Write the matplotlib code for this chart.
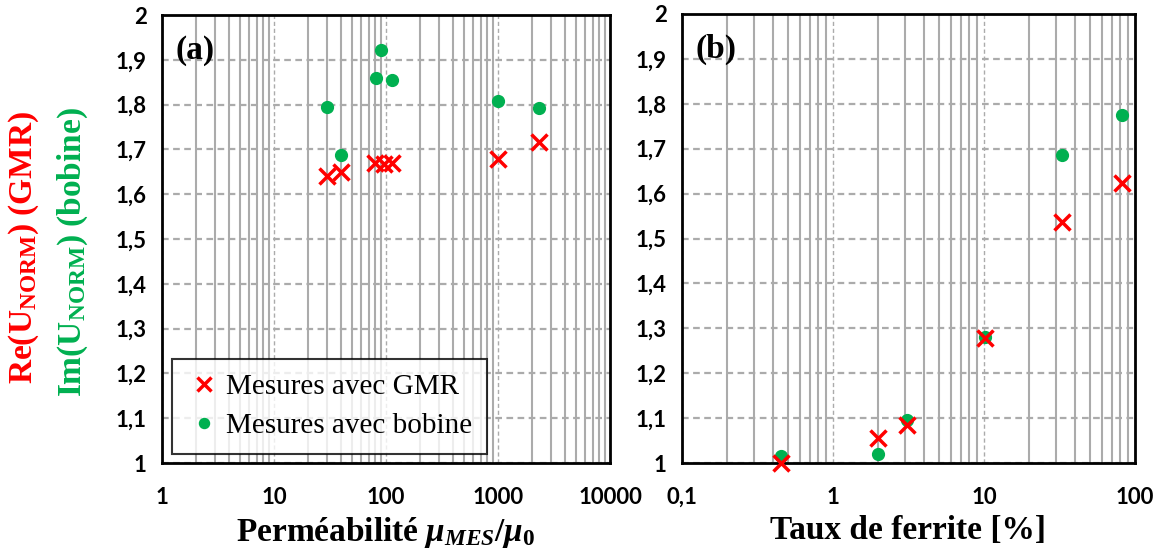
import matplotlib
matplotlib.use("Agg")
import matplotlib.pyplot as plt
from matplotlib.ticker import FixedLocator, FixedFormatter, LogLocator, NullFormatter

plt.rcParams['mathtext.fontset'] = 'custom'
plt.rcParams['mathtext.rm'] = 'Liberation Serif:bold'
plt.rcParams['mathtext.bf'] = 'Liberation Serif:bold'
plt.rcParams['mathtext.it'] = 'Liberation Serif:bold:italic'

# ---- data: panel (a) ----
perm_gmr = [30, 40, 80, 95, 112, 1000, 2300]
re_gmr_a = [1.641, 1.650, 1.669, 1.667, 1.670, 1.678, 1.716]
perm_bob = [30, 40, 81, 91, 112, 1000, 2300]
im_bob_a = [1.794, 1.688, 1.859, 1.922, 1.854, 1.807, 1.792]

# ---- data: panel (b) ----
ferr_gmr = [0.45, 2.0, 3.1, 10.2, 33, 82]
re_gmr_b = [1.000, 1.055, 1.085, 1.278, 1.537, 1.624]
ferr_bob = [0.45, 2.0, 3.1, 10.2, 33, 82]
im_bob_b = [1.016, 1.019, 1.096, 1.280, 1.686, 1.775]

yticks = [1.0, 1.1, 1.2, 1.3, 1.4, 1.5, 1.6, 1.7, 1.8, 1.9, 2.0]
ytick_labels = ["1", "1,1", "1,2", "1,3", "1,4", "1,5", "1,6", "1,7", "1,8", "1,9", "2"]
xticks_a = [1, 10, 100, 1000, 10000]
xtick_labels_a = ["1", "10", "100", "1000", "10000"]
xticks_b = [0.1, 1, 10, 100]
xtick_labels_b = ["0,1", "1", "10", "100"]

RED = "#FF0000"
GREEN = "#00B050"
GRID = "#ABABAB"

W, H = 1159, 550
fig = plt.figure(figsize=(W / 100, H / 100), dpi=100)
ax1 = fig.add_axes([162 / W, 87 / H, 448 / W, 448 / H])
ax2 = fig.add_axes([682 / W, 87 / H, 453 / W, 449 / H])

serif_b = dict(family="Liberation Serif", weight="bold")

def style(ax, xlim, xt, xtl):
    ax.set_xscale("log")
    ax.set_xlim(*xlim)
    ax.set_ylim(1, 2)
    ax.xaxis.set_major_locator(FixedLocator(xt))
    ax.xaxis.set_major_formatter(FixedFormatter(xtl))
    ax.xaxis.set_minor_locator(LogLocator(base=10, subs=range(2, 10), numticks=20))
    ax.xaxis.set_minor_formatter(NullFormatter())
    ax.yaxis.set_major_locator(FixedLocator(yticks))
    ax.yaxis.set_major_formatter(FixedFormatter(ytick_labels))
    ax.tick_params(which="both", length=0)
    ax.tick_params(axis="x", pad=17)
    ax.tick_params(axis="y", pad=11)
    for lab in ax.get_xticklabels() + ax.get_yticklabels():
        lab.set_fontfamily("Lato")
        lab.set_fontweight("bold")
        lab.set_fontsize(16)
    ax.grid(True, which="minor", axis="x", color=GRID, linestyle="-", linewidth=1.5)
    ax.grid(True, which="major", axis="x", color=GRID, linestyle=(0, (3, 2)), linewidth=1.0)
    ax.grid(True, which="major", axis="y", color=GRID, linestyle=(0, (3, 2)), linewidth=1.6)
    ax.set_axisbelow(True)
    for s in ax.spines.values():
        s.set_linewidth(2)
        s.set_color("black")

style(ax1, (1, 10000), xticks_a, xtick_labels_a)
style(ax2, (0.1, 100), xticks_b, xtick_labels_b)

ms_x, mew_x, ms_o = 11.5, 2.5, 8.5
ax1.plot(perm_bob, im_bob_a, "o", color=GREEN, ms=ms_o, ls="none", clip_on=False,
         label="Mesures avec bobine", zorder=3)
ax1.plot(perm_gmr, re_gmr_a, "x", color=RED, ms=ms_x, mew=mew_x, ls="none", clip_on=False,
         label="Mesures avec GMR", zorder=4)
ax2.plot(ferr_bob, im_bob_b, "o", color=GREEN, ms=ms_o, ls="none", clip_on=False, zorder=3)
ax2.plot(ferr_gmr, re_gmr_b, "x", color=RED, ms=ms_x, mew=mew_x, ls="none", clip_on=False, zorder=4)

h, l = ax1.get_legend_handles_labels()
leg = ax1.legend([h[1], h[0]], [l[1], l[0]], loc="lower left", bbox_to_anchor=(10 / 448, 9 / 448),
                 prop=dict(family="Liberation Serif", size=21), frameon=True, fancybox=False,
                 edgecolor="black", handlelength=1.2, handletextpad=0.15, borderpad=0.5,
                 labelspacing=0.45, markerscale=0.85, borderaxespad=0)
leg.get_frame().set_linewidth(1.5)

ax1.text(0.03, 0.955, "(a)", transform=ax1.transAxes, ha="left", va="top", fontsize=24, **serif_b)
ax2.text(0.03, 0.955, "(b)", transform=ax2.transAxes, ha="left", va="top", fontsize=24, **serif_b)

ax1.set_xlabel(r"Perméabilité $\mathit{μ_{MES}/μ_0}$", fontsize=24, labelpad=5, **serif_b)
ax2.set_xlabel("Taux de ferrite [%]", fontsize=24, labelpad=5, **serif_b)

fig.text(24 / W, 1 - 247 / H, r"Re(U$_{\mathbf{NORM}}$) (GMR)", rotation=90, color=RED,
         ha="center", va="center", fontsize=24, **serif_b)
fig.text(73 / W, 1 - 252 / H, r"Im(U$_{\mathbf{NORM}}$) (bobine)", rotation=90, color=GREEN,
         ha="center", va="center", fontsize=24, **serif_b)

fig.savefig("out.png", dpi=100)
